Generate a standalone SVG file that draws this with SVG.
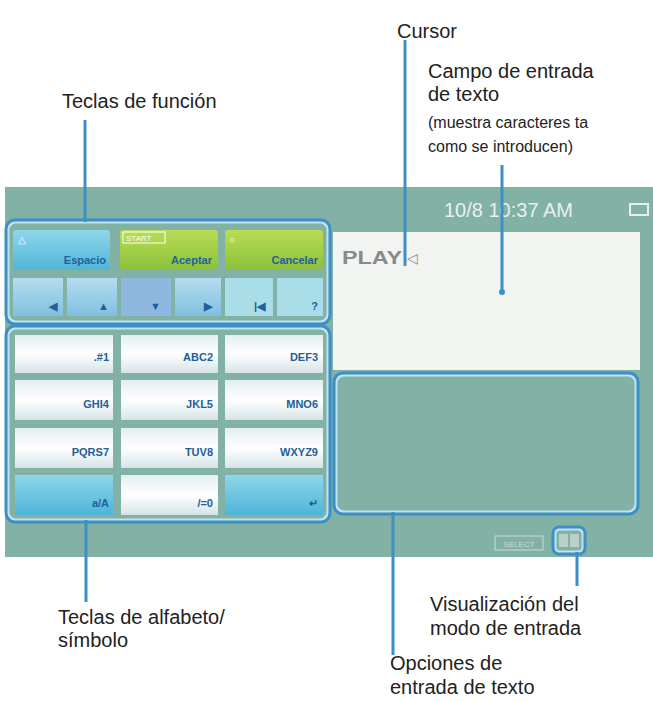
<svg xmlns="http://www.w3.org/2000/svg" width="653" height="701" viewBox="0 0 653 701">
<defs>
<style>
.lbl{font-family:"Liberation Sans",Arial,sans-serif;font-size:20px;fill:#222}
.sm{font-family:"Liberation Sans",Arial,sans-serif;font-size:16px;fill:#222}
.ln{stroke:#3d8fc4;stroke-width:3;fill:none}
.pnl{fill:none;stroke:#bfe3f2;stroke-width:3}
.key{fill:url(#kg)}
.kt{font-family:"Liberation Sans",Arial,sans-serif;font-size:11px;font-weight:bold;fill:#1f5f9a;text-anchor:end}
</style>
<linearGradient id="kg" x1="0" y1="0" x2="0" y2="1"><stop offset="0" stop-color="#e4eef0"/><stop offset="0.5" stop-color="#ffffff"/><stop offset="1" stop-color="#d5e3e6"/></linearGradient>
<linearGradient id="bg" x1="0" y1="0" x2="0" y2="1"><stop offset="0" stop-color="#8fd6ea"/><stop offset="1" stop-color="#4fb5d8"/></linearGradient>
<linearGradient id="gg" x1="0" y1="0" x2="0" y2="1"><stop offset="0" stop-color="#b9dd55"/><stop offset="1" stop-color="#8cc03a"/></linearGradient>
<linearGradient id="lb" x1="0" y1="0" x2="0" y2="1"><stop offset="0" stop-color="#b5dcef"/><stop offset="1" stop-color="#7fc0e0"/></linearGradient>
</defs>
<rect width="653" height="701" fill="#fff"/>
<g id="screen">
<rect x="5" y="187" width="648" height="370" fill="#82b1a6"/>
<text x="444" y="217" font-family="Liberation Sans,Arial,sans-serif" font-size="20" fill="#e8f0ee">10/8 10:37 AM</text>
<rect x="630" y="204" width="18" height="11" fill="none" stroke="#e8f0ee" stroke-width="2"/>
</g>
<g id="funcion">
<rect x="8" y="222" width="320" height="100" rx="8" fill="#9ccfd8" class="pnl"/>
<rect x="13" y="230" width="97" height="40" rx="3" fill="url(#bg)"/>
<rect x="120" y="230" width="98" height="40" rx="3" fill="url(#gg)"/>
<rect x="225" y="230" width="98" height="40" rx="3" fill="url(#gg)"/>
<text x="106" y="264" class="kt">Espacio</text>
<text x="212" y="264" class="kt">Aceptar</text>
<text x="318" y="264" class="kt">Cancelar</text>
<text x="18" y="243" font-family="Liberation Sans,Arial,sans-serif" font-size="10" fill="#fff">△</text>
<rect x="123" y="232" width="42" height="11" fill="none" stroke="#fff"/>
<text x="126" y="241" font-family="Liberation Sans,Arial,sans-serif" font-size="8" fill="#fff">START</text>
<text x="229" y="243" font-family="Liberation Sans,Arial,sans-serif" font-size="10" fill="#fff">○</text>
<rect x="13" y="278" width="50" height="38" fill="url(#lb)"/>
<rect x="67" y="278" width="50" height="38" fill="url(#lb)"/>
<rect x="121" y="278" width="50" height="38" fill="#8fb8e0"/>
<rect x="175" y="278" width="46" height="38" fill="url(#lb)"/>
<rect x="225" y="278" width="48" height="38" fill="#a9dde8"/>
<rect x="277" y="278" width="46" height="38" fill="#a9dde8"/>
<text x="57" y="310" class="kt">◀</text><text x="109" y="310" class="kt">▲</text><text x="161" y="310" class="kt">▼</text><text x="212" y="310" class="kt">▶</text><text x="265" y="310" class="kt">|◀</text><text x="318" y="310" class="kt" font-size="13">?</text>
</g>
<g id="alfabeto">
<rect x="8" y="328" width="320" height="192" rx="8" fill="#9ccfd8" class="pnl"/>
<rect x="15" y="335" width="98" height="38" class="key"/><rect x="121" y="335" width="97" height="38" class="key"/><rect x="225" y="335" width="98" height="38" class="key"/>
<rect x="15" y="380" width="98" height="40" class="key"/><rect x="121" y="380" width="97" height="40" class="key"/><rect x="225" y="380" width="98" height="40" class="key"/>
<rect x="15" y="428" width="98" height="40" class="key"/><rect x="121" y="428" width="97" height="40" class="key"/><rect x="225" y="428" width="98" height="40" class="key"/>
<rect x="15" y="475" width="98" height="40" fill="url(#bg)"/><rect x="121" y="475" width="97" height="40" class="key"/><rect x="225" y="475" width="98" height="40" fill="url(#bg)"/>
<text x="109" y="361" class="kt">.#1</text><text x="213" y="361" class="kt">ABC2</text><text x="318" y="361" class="kt">DEF3</text>
<text x="109" y="408" class="kt">GHI4</text><text x="213" y="408" class="kt">JKL5</text><text x="318" y="408" class="kt">MNO6</text>
<text x="109" y="456" class="kt">PQRS7</text><text x="213" y="456" class="kt">TUV8</text><text x="318" y="456" class="kt">WXYZ9</text>
<text x="109" y="507" class="kt" font-size="13">a/A</text><text x="213" y="507" class="kt">/=0</text><text x="318" y="507" class="kt" font-size="14">↵</text>
</g>
<g id="campo">
<rect x="333" y="232" width="307" height="138" fill="#f2f4f2"/>
<text x="342" y="264" font-family="Liberation Sans,Arial,sans-serif" font-size="18" font-weight="bold" fill="#8a8a8a" textLength="60" lengthAdjust="spacingAndGlyphs">PLAY</text>
<text x="407" y="263" font-family="Liberation Sans,Arial,sans-serif" font-size="14" fill="#8a8a8a">◁</text>
</g>
<g id="opciones"><rect x="336" y="375" width="300" height="137" rx="8" fill="#82b1a6" class="pnl"/></g>
<g id="modo">
<rect x="495" y="536" width="48" height="14" fill="none" stroke="#c9dcd8"/>
<text x="519" y="547" font-family="Liberation Sans,Arial,sans-serif" font-size="8" fill="#c9dcd8" text-anchor="middle">SELECT</text>
<rect x="555" y="529" width="28" height="23" rx="5" class="pnl"/>
<rect x="559" y="534" width="9" height="13" fill="#b9cfca"/><rect x="570" y="534" width="9" height="13" fill="#b9cfca"/>
</g>
<g id="conectores">
<path class="ln" d="M85 120V222M405 40V266M502 165V292M86 520V602M393 512V655M577 552V586"/>
<circle cx="502" cy="292" r="3" fill="#3d8fc4"/>
<rect x="6" y="220" width="324" height="104" rx="9" class="ln" stroke-width="2"/>
<rect x="6" y="326" width="324" height="196" rx="9" class="ln" stroke-width="2"/>
<rect x="334" y="373" width="304" height="141" rx="9" class="ln" stroke-width="2"/>
<rect x="553" y="527" width="32" height="27" rx="6" class="ln" stroke-width="2"/>
</g>
<g id="labels">
<text x="397" y="38" class="lbl">Cursor</text>
<text x="428" y="78" class="lbl">Campo de entrada</text>
<text x="428" y="101" class="lbl">de texto</text>
<text x="428" y="128" class="sm">(muestra caracteres ta</text>
<text x="428" y="152" class="sm">como se introducen)</text>
<text x="62" y="108" class="lbl">Teclas de función</text>
<text x="58" y="624" class="lbl">Teclas de alfabeto/</text>
<text x="58" y="647" class="lbl">símbolo</text>
<text x="430" y="611" class="lbl">Visualización del</text>
<text x="430" y="635" class="lbl">modo de entrada</text>
<text x="390" y="670" class="lbl">Opciones de</text>
<text x="390" y="694" class="lbl">entrada de texto</text>
</g>
</svg>
